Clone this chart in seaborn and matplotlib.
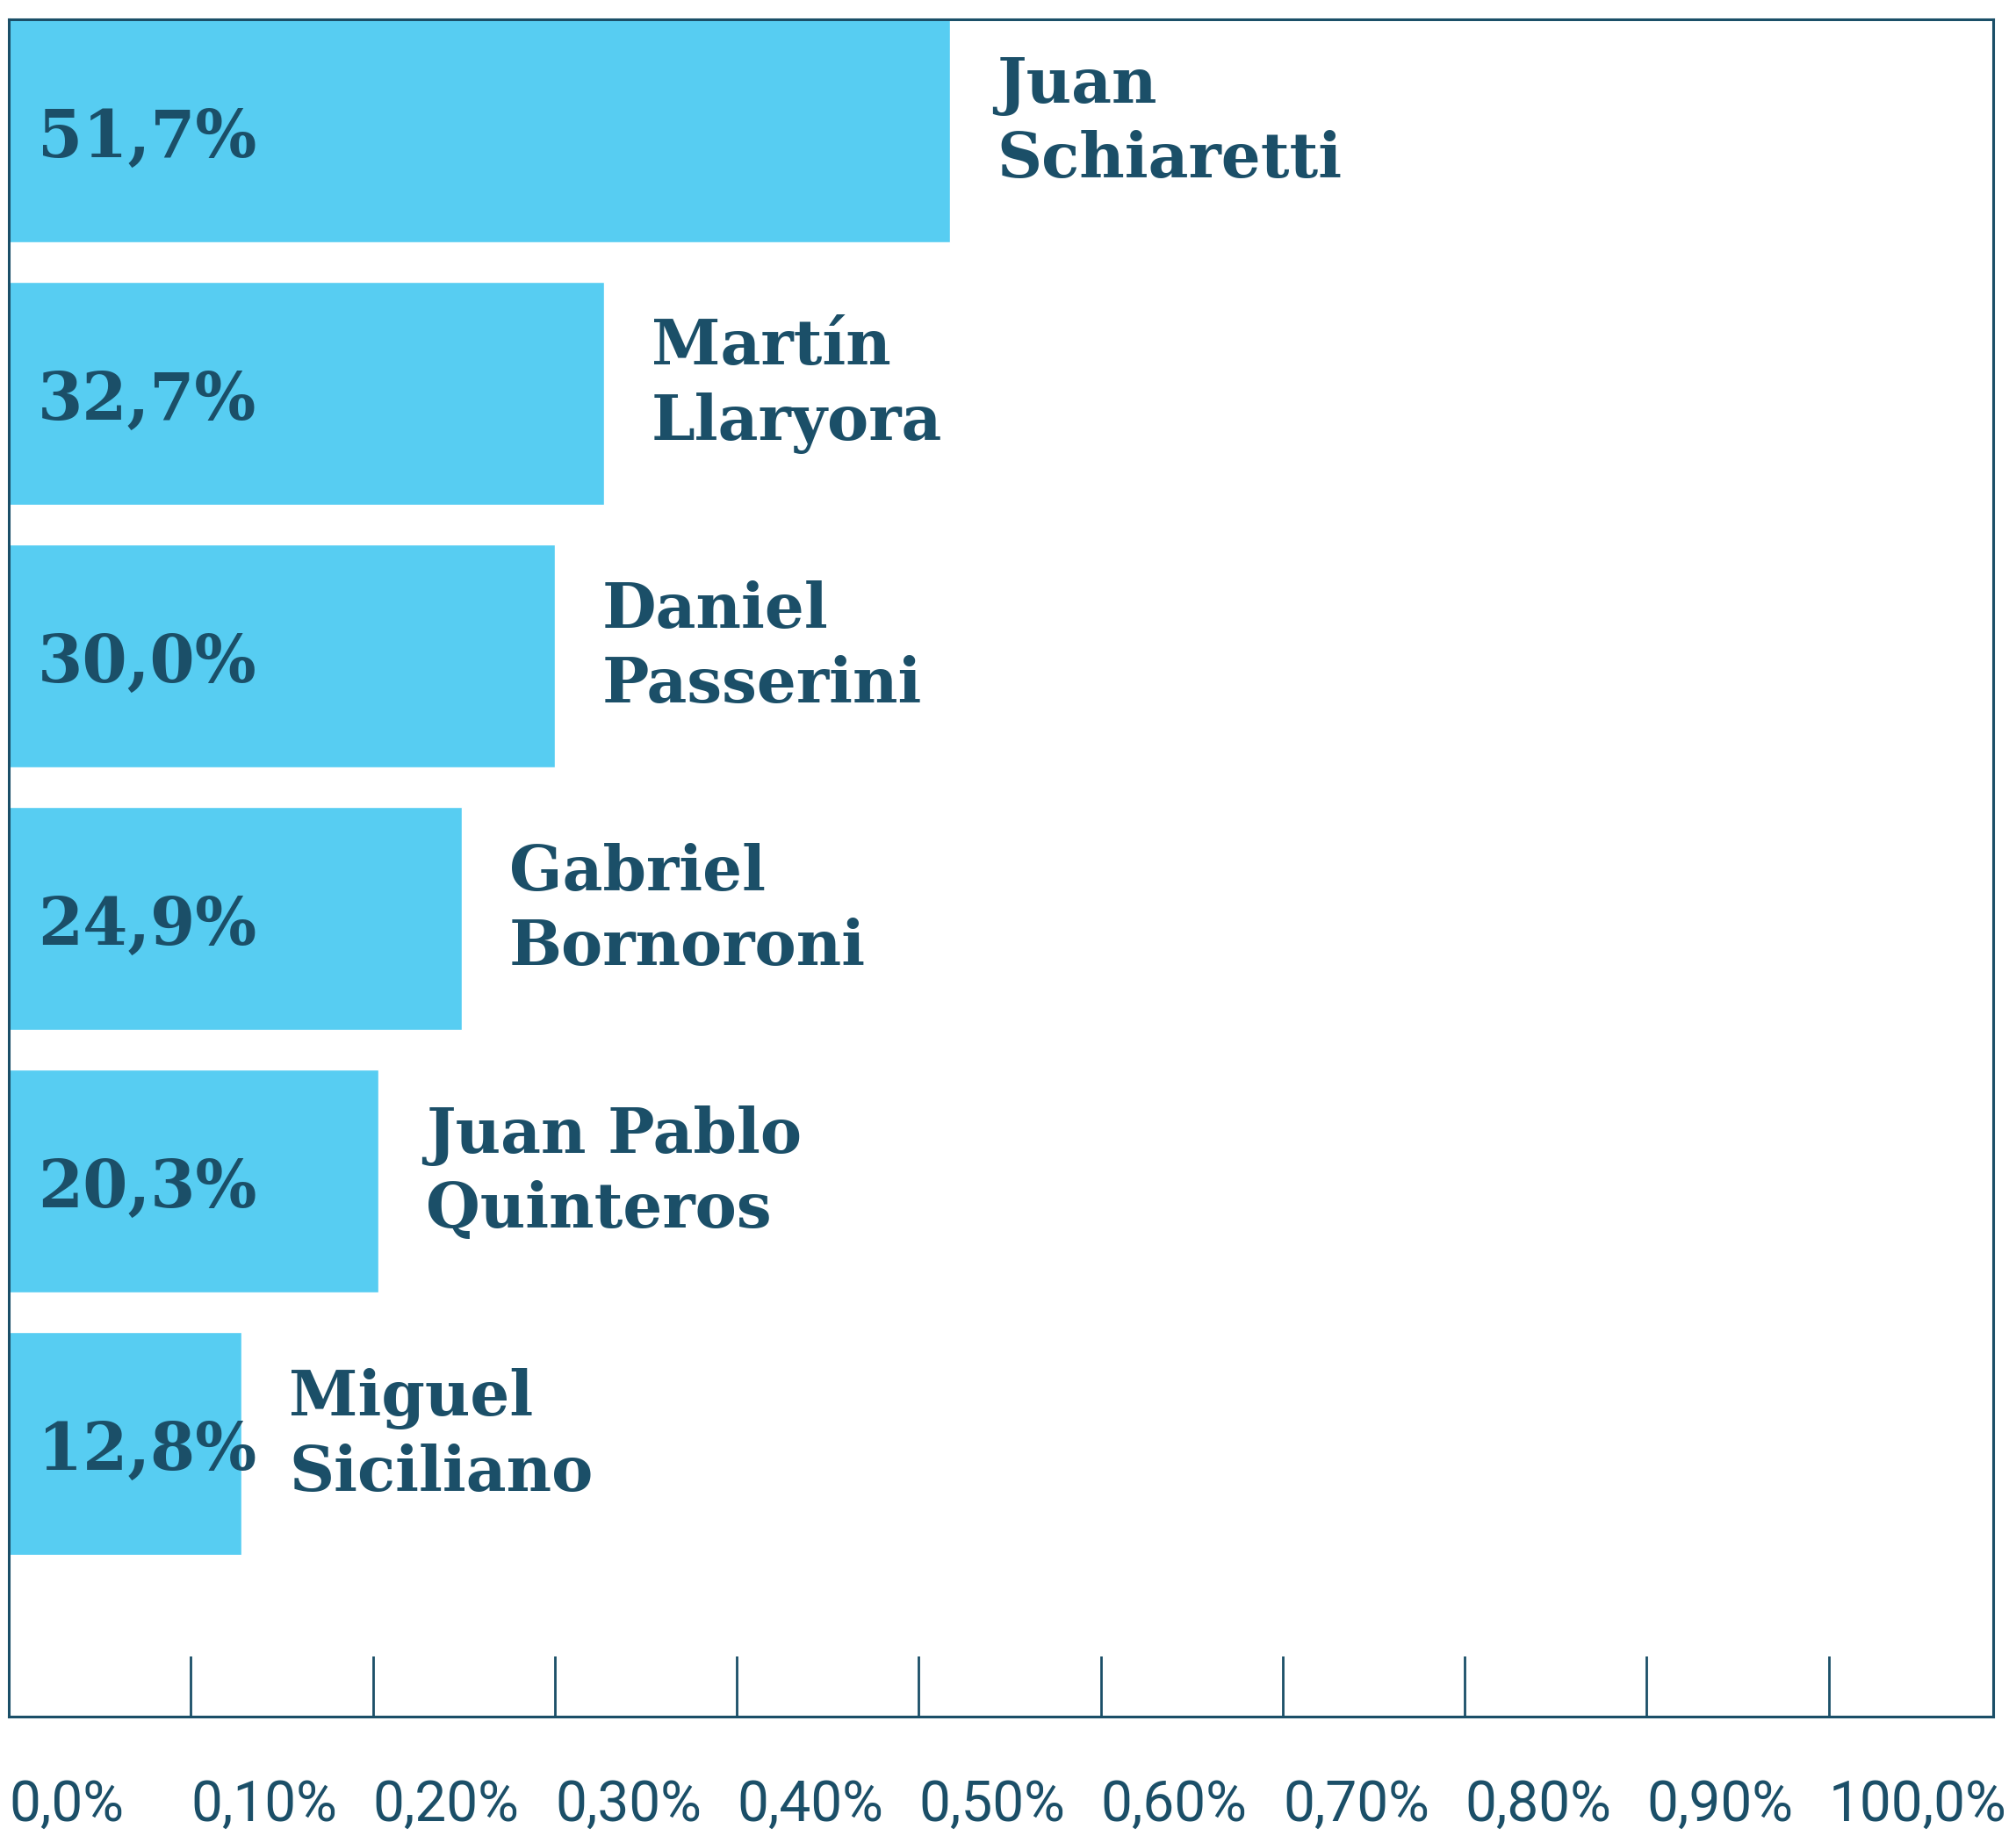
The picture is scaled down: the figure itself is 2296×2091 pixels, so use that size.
import matplotlib.pyplot as plt
import pandas as pd
import seaborn as sns

candidatos = ['Juan\nSchiaretti', 'Martín\nLlaryora', 'Daniel\nPasserini',
              'Gabriel\nBornoroni', 'Juan Pablo\nQuinteros', 'Miguel\nSiciliano']
porcentajes = [51.7, 32.7, 30.0, 24.9, 20.3, 12.8]
ticks = [0, 10, 20, 30, 40, 50, 60, 70, 80, 90, 100]
tick_labels = ['0,0%', '0,10%', '0,20%', '0,30%', '0,40%', '0,50%',
               '0,60%', '0,70%', '0,80%', '0,90%', '100,0%']

data = pd.DataFrame({'Candidato': candidatos, 'Porcentaje': porcentajes})

azul = '#57CDF2'
oscuro = '#1B4F68'

sns.set_style('white')
plt.rcParams['font.family'] = ['DejaVu Serif']

fig = plt.figure(figsize=(22.96, 20.91), dpi=100)
ax = fig.add_axes([0.0044, 0.065, 0.9843, 0.9245])

sns.barplot(data=data, x='Porcentaje', y='Candidato', orient='h',
            color=azul, saturation=1, width=0.85, ax=ax)

for i, (nombre, v) in enumerate(zip(candidatos, porcentajes)):
    ax.text(1.6, i + 0.03, f"{v:.1f}%".replace('.', ','), ha='left', va='center',
            fontsize=53, fontweight='bold', color=oscuro, family='DejaVu Serif')
    ax.text(v + 2.6, i - 0.03, nombre, ha='left', va='center',
            fontsize=51, fontweight='bold', color=oscuro,
            family='DejaVu Serif', linespacing=1.3)

ax.set_xlim(0, 109.04)
ax.set_ylim(6.04, -0.425)
ax.set_xlabel('')
ax.set_ylabel('')
ax.set_yticks([])
ax.set_xticks(ticks)
ax.set_xticklabels(tick_labels, fontsize=46, color=oscuro, family='Roboto',
                   ha='left')
ax.tick_params(axis='x', bottom=True, direction='in', length=50, width=2,
               color=oscuro, pad=50)

for s in ax.spines.values():
    s.set_visible(True)
    s.set_color(oscuro)
    s.set_linewidth(2.2)

fig.savefig('out.png', dpi=100)
